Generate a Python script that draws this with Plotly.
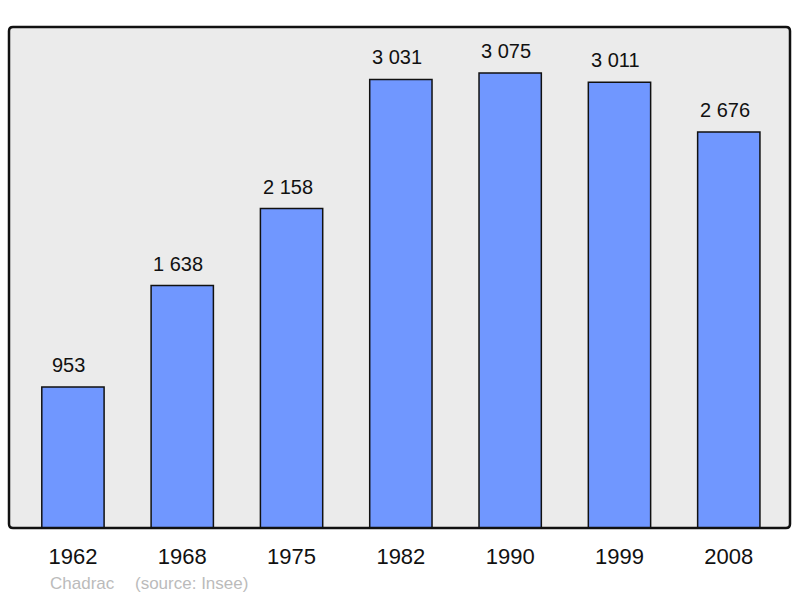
import plotly.graph_objects as go

# population data
years = ["1962", "1968", "1975", "1982", "1990", "1999", "2008"]
population = [953, 1638, 2158, 3031, 3075, 3011, 2676]
labels = ["953", "1 638", "2 158", "3 031", "3 075", "3 011", "2 676"]

fig = go.Figure()

fig.add_trace(
    go.Bar(
        x=list(range(len(years))),
        y=population,
        width=0.57,
        marker=dict(color="#7097ff", line=dict(color="#111111", width=1.5)),
        showlegend=False,
        hoverinfo="skip",
    )
)

# value labels above the bars (sit a bit left of bar centre in the original)
for i, (v, lab) in enumerate(zip(population, labels)):
    fig.add_annotation(
        x=i, y=v, text=lab,
        xanchor="center", yanchor="bottom",
        xshift=-4, yshift=9, showarrow=False,
        font=dict(family="Liberation Sans", size=20, color="#111111"),
    )

# frame round the plot area, slightly rounded corners
rx = 4 / 781
ry = 4 / 501
frame = (
    f"M {rx},0 L {1 - rx},0 Q 1,0 1,{ry} L 1,{1 - ry} Q 1,1 {1 - rx},1 "
    f"L {rx},1 Q 0,1 0,{1 - ry} L 0,{ry} Q 0,0 {rx},0 Z"
)
fig.add_shape(
    type="path",
    xref="paper", yref="paper",
    path=frame,
    line=dict(color="#111111", width=2.5),
    layer="above",
)

fig.add_annotation(
    text="Chadrac",
    xref="paper", yref="paper",
    x=0.05, y=-0.11,
    xanchor="left", yanchor="middle",
    showarrow=False,
    font=dict(family="Liberation Sans", size=17, color="#bbbbbb"),
)
fig.add_annotation(
    text="(source: Insee)",
    xref="paper", yref="paper",
    x=0.1588, y=-0.11,
    xanchor="left", yanchor="middle",
    showarrow=False,
    font=dict(family="Liberation Sans", size=17, color="#bbbbbb"),
)

fig.update_layout(
    width=800,
    height=598,
    margin=dict(l=9, r=10, t=27, b=70),
    paper_bgcolor="white",
    plot_bgcolor="#ebebeb",
    xaxis=dict(
        range=[-0.585, 6.56],
        tickvals=list(range(len(years))),
        ticktext=years,
        tickfont=dict(family="Liberation Sans", size=22, color="#111111"),
        showgrid=False,
        zeroline=False,
        ticks="outside",
        ticklen=9,
        tickcolor="rgba(0,0,0,0)",
    ),
    yaxis=dict(
        range=[0, 3385],
        visible=False,
        showgrid=False,
    ),
)

fig.write_html(
    "out.html",
    config={"displayModeBar": False},
    post_script="document.body.style.margin='0';",
)
